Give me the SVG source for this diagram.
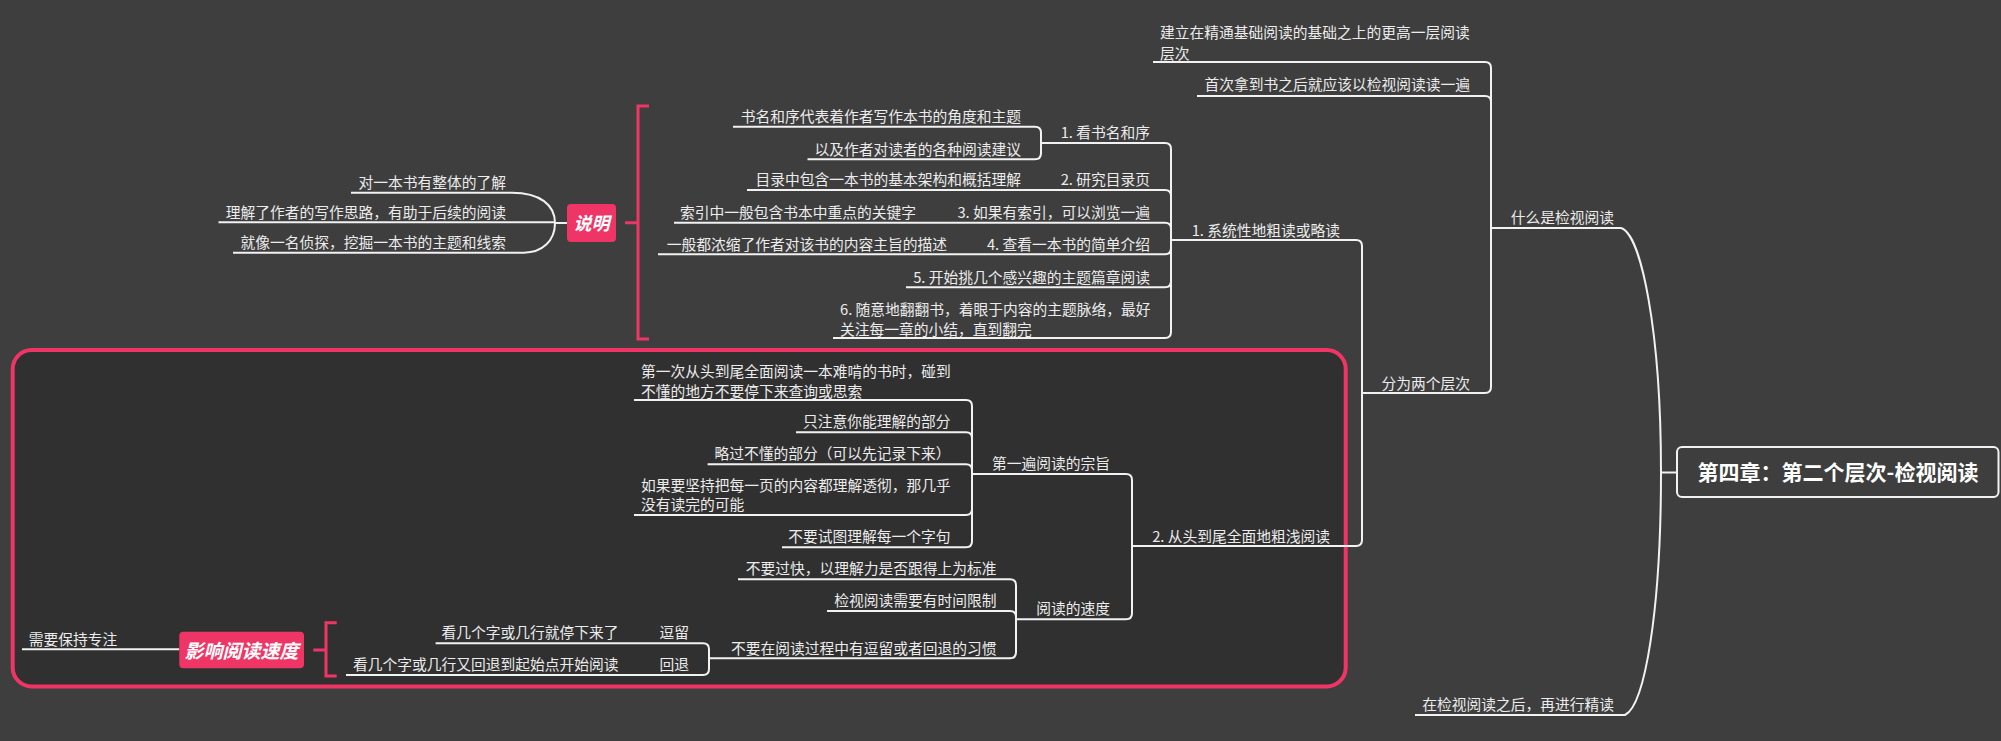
<svg xmlns="http://www.w3.org/2000/svg" width="2001" height="741" viewBox="0 0 2001 741">
<style>
.t{font-family:"Noto Sans CJK SC","Noto Sans",sans-serif;font-size:14.75px;fill:#ececec;dominant-baseline:central}
.e{text-anchor:end}
.c{fill:none;stroke:#f2f2f2;stroke-width:2}
.br{fill:none;stroke:#ef3566;stroke-width:3}
.tag{fill:#ef3566}
.tt{font-family:"Noto Sans CJK SC","Noto Sans",sans-serif;font-weight:bold;font-style:italic;fill:#ffffff;text-anchor:middle;dominant-baseline:central}
</style>
<rect x="0" y="0" width="2001" height="741" fill="#3e3e3e"/>
<rect id="boundary" x="12.7" y="350" width="1333" height="336.5" rx="19" fill="#303030" stroke="#ef3566" stroke-width="4"/>
<g id="connectors">
  <path class="c" d="M1661,472.5 H1677"/>
  <path class="c" d="M1491,228 H1621 C1641,234 1661,330 1661,472.5 C1661,610 1645,705 1625,715 H1415"/>
  <path class="c" d="M1153,62 H1485 Q1491,62 1491,68 V387 Q1491,393 1485,393 H1362"/>
  <path class="c" d="M1197,96 H1485 Q1491,96 1491,102"/>
  <path class="c" d="M1172,240 H1356 Q1362,240 1362,246 V540 Q1362,546 1356,546 H1132"/>
  <path class="c" d="M1041,143 H1165 Q1171,143 1171,149 V332 Q1171,338 1165,338 H833"/>
  <path class="c" d="M747,190 H1165 Q1171,190 1171,196"/>
  <path class="c" d="M674,222.7 H1165 Q1171,222.7 1171,228.7"/>
  <path class="c" d="M658,254.3 H1165 Q1171,254.3 1171,248.3"/>
  <path class="c" d="M906,287.3 H1165 Q1171,287.3 1171,281.3"/>
  <path class="c" d="M733,126.7 H1035 Q1041,126.7 1041,132.7 V153.3 Q1041,159.3 1035,159.3 H807.5"/>
  <path class="c" d="M567,223 H555"/>
  <path class="c" d="M351,192.7 H512 C540,192.7 555,205 555,223 C555,241 542,252.7 524,252.7 H233"/>
  <path class="c" d="M218.5,222.3 H555"/>
  <path class="c" d="M972,474 H1126 Q1132,474 1132,480 V613.3 Q1132,619.3 1126,619.3 H1016"/>
  <path class="c" d="M634,400 H966 Q972,400 972,406 V541.3 Q972,547.3 966,547.3 H782"/>
  <path class="c" d="M796,432.3 H966 Q972,432.3 972,438.3"/>
  <path class="c" d="M707.6,464.3 H966 Q972,464.3 972,470.3"/>
  <path class="c" d="M634,515 H966 Q972,515 972,509"/>
  <path class="c" d="M738,579.3 H1010 Q1016,579.3 1016,585.3 V652.3 Q1016,658.3 1010,658.3 H709"/>
  <path class="c" d="M827,611 H1010 Q1016,611 1016,617"/>
  <path class="c" d="M435.6,643.3 H703 Q709,643.3 709,649.3 V669 Q709,675 703,675 H346"/>
  <path class="c" d="M22,649.3 H179.3"/>
  <path class="br" d="M649,106 H638 V339 H649 M625,222.7 H638"/>
  <path class="br" d="M336.7,622.7 H326 V676 H336.7 M313.3,650 H326"/>
</g>
<g id="root">
  <rect x="1677" y="447" width="321.5" height="50" rx="5" fill="#3e3e3e" stroke="#f2f2f2" stroke-width="2"/>
  <text x="1838" y="471" style="font-family:'Noto Sans CJK SC','Noto Sans',sans-serif;font-size:21px;font-weight:bold;fill:#ffffff;text-anchor:middle;dominant-baseline:central">第四章：第二个层次-检视阅读</text>
</g>
<g id="n-what"><text class="t e" x="1614" y="216.5">什么是检视阅读</text></g>
<g id="n-after"><text class="t e" x="1614" y="703.5">在检视阅读之后，再进行精读</text></g>
<g id="n-higher"><text class="t" x="1160" y="31.5">建立在精通基础阅读的基础之上的更高一层阅读<tspan x="1160" y="51.5">层次</tspan></text></g>
<g id="n-first"><text class="t e" x="1470" y="83.5">首次拿到书之后就应该以检视阅读读一遍</text></g>
<g id="n-two"><text class="t e" x="1470" y="382.5">分为两个层次</text></g>
<g id="n-sys"><text class="t e" x="1340" y="229.5">1. 系统性地粗读或略读</text></g>
<g id="n-full"><text class="t e" x="1330" y="535.5">2. 从头到尾全面地粗浅阅读</text></g>
<g id="n-s1"><text class="t e" x="1150" y="131.5">1. 看书名和序</text></g>
<g id="n-s1a"><text class="t e" x="1021" y="115.5">书名和序代表着作者写作本书的角度和主题</text></g>
<g id="n-s1b"><text class="t e" x="1021" y="148.5">以及作者对读者的各种阅读建议</text></g>
<g id="n-s2"><text class="t e" x="1150" y="178.5">2. 研究目录页</text></g>
<g id="n-s2a"><text class="t e" x="1021" y="178.5">目录中包含一本书的基本架构和概括理解</text></g>
<g id="n-s3"><text class="t e" x="1150" y="211.5">3. 如果有索引，可以浏览一遍</text></g>
<g id="n-s3a"><text class="t e" x="916" y="211.5">索引中一般包含书本中重点的关键字</text></g>
<g id="n-s4"><text class="t e" x="1150" y="243.5">4. 查看一本书的简单介绍</text></g>
<g id="n-s4a"><text class="t e" x="947" y="243.5">一般都浓缩了作者对该书的内容主旨的描述</text></g>
<g id="n-s5"><text class="t e" x="1150" y="276.5">5. 开始挑几个感兴趣的主题篇章阅读</text></g>
<g id="n-s6"><text class="t" x="840" y="308">6. 随意地翻翻书，着眼于内容的主题脉络，最好<tspan x="840" y="327.5">关注每一章的小结，直到翻完</tspan></text></g>
<g id="n-shuoming">
  <rect class="tag" x="567" y="204" width="49" height="38" rx="4"/>
  <text class="tt" x="591.5" y="222" font-size="18">说明</text>
</g>
<g id="n-sm1"><text class="t e" x="506" y="181.5">对一本书有整体的了解</text></g>
<g id="n-sm2"><text class="t e" x="506" y="211.5">理解了作者的写作思路，有助于后续的阅读</text></g>
<g id="n-sm3"><text class="t e" x="506" y="241.5">就像一名侦探，挖掘一本书的主题和线索</text></g>
<g id="n-aim"><text class="t e" x="1110" y="462.5">第一遍阅读的宗旨</text></g>
<g id="n-a1"><text class="t" x="641" y="370.5">第一次从头到尾全面阅读一本难啃的书时，碰到<tspan x="641" y="389.5">不懂的地方不要停下来查询或思索</tspan></text></g>
<g id="n-a2"><text class="t e" x="950.5" y="420.5">只注意你能理解的部分</text></g>
<g id="n-a3"><text class="t e" x="950.5" y="452.5">略过不懂的部分（可以先记录下来）</text></g>
<g id="n-a4"><text class="t" x="641" y="484.5">如果要坚持把每一页的内容都理解透彻，那几乎<tspan x="641" y="503">没有读完的可能</tspan></text></g>
<g id="n-a5"><text class="t e" x="950.5" y="535.5">不要试图理解每一个字句</text></g>
<g id="n-speed"><text class="t e" x="1110" y="607">阅读的速度</text></g>
<g id="n-sp1"><text class="t e" x="996.5" y="567.5">不要过快，以理解力是否跟得上为标准</text></g>
<g id="n-sp2"><text class="t e" x="996.5" y="599">检视阅读需要有时间限制</text></g>
<g id="n-sp3"><text class="t e" x="996.5" y="647">不要在阅读过程中有逗留或者回退的习惯</text></g>
<g id="n-stay"><text class="t e" x="689" y="631.5">逗留</text></g>
<g id="n-back"><text class="t e" x="689" y="663.5">回退</text></g>
<g id="n-stay1"><text class="t e" x="618.6" y="631.5">看几个字或几行就停下来了</text></g>
<g id="n-back1"><text class="t e" x="618.6" y="663.5">看几个字或几行又回退到起始点开始阅读</text></g>
<g id="n-influence">
  <rect class="tag" x="179.3" y="631.7" width="124.7" height="36.6" rx="4"/>
  <text class="tt" x="241.6" y="649" font-size="19">影响阅读速度</text>
</g>
<g id="n-focus"><text class="t" x="28.7" y="638.5">需要保持专注</text></g>
</svg>
